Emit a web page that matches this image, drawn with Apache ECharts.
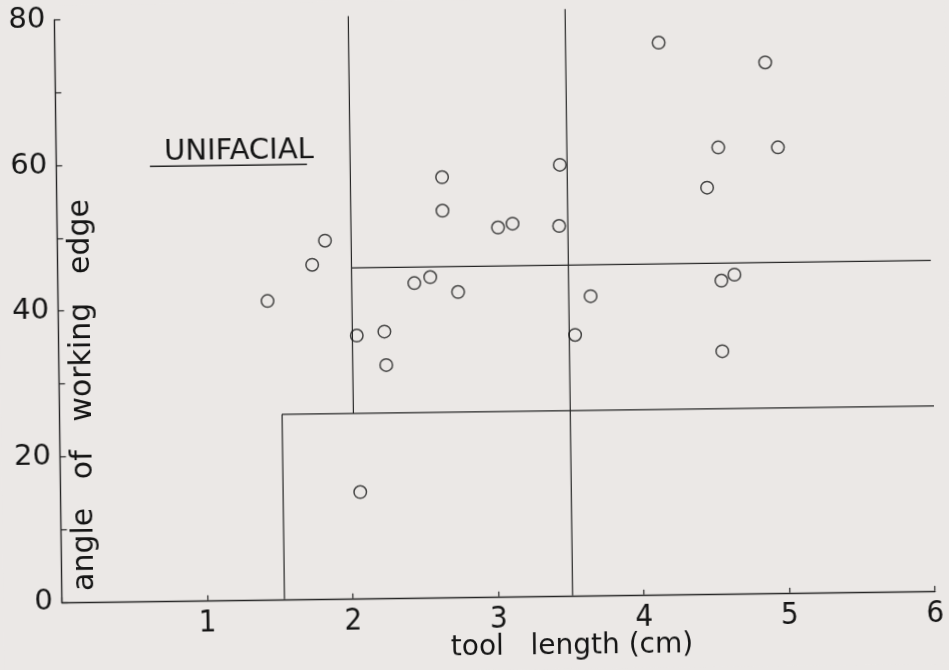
<!DOCTYPE html>
<html>
<head>
<meta charset="utf-8">
<script src="https://cdn.jsdelivr.net/npm/echarts@6/dist/echarts.min.js"></script>
<style>
  html, body { margin: 0; padding: 0; background: #ebe8e6; overflow: hidden; }
  /* the printed figure sits slightly tilted on the page */
  #chart { width: 949px; height: 670px; transform: rotate(-0.74deg); transform-origin: 50% 50%; }
</style>
</head>
<body>
<div id="chart"></div>
<script>
// tool length (cm) and angle of working edge (degrees) for each unifacial tool
const toolLength = [1.44, 1.75, 1.84, 2.05, 2.24, 2.25, 2.06, 2.45, 2.56, 2.75, 2.65, 2.65, 3.03,
                    3.13, 3.46, 3.45, 3.55, 3.66, 4.15, 4.88, 4.55, 4.96, 4.47, 4.56, 4.65, 4.56];
const edgeAngle  = [41.0, 45.9, 49.2, 36.1, 36.6, 32.0, 14.6, 43.2, 44.0, 41.9, 57.7, 53.1, 50.7,
                    51.2, 59.2, 50.8, 35.8, 41.1, 75.8, 72.9, 61.3, 61.2, 55.8, 43.0, 43.8, 33.3];

// class boundaries drawn across the field
const boundaryShortUpper = [[2.02, 25.4], [2.02, 80.0]];
const boundaryAngleUpper = [[2.02, 45.4], [6.0, 45.4]];
const boundaryLongTools  = [[3.51, 0], [3.51, 80.6]];
const boundaryLowAngle   = [[1.53, 0], [1.53, 25.4], [6.04, 25.4]];

// heading of the panel and the rule under it
const panelTitle = 'UNIFACIAL';
const panelTitleAt = [1.257, 61.6];
const panelRule = [[0.644, 59.7], [1.723, 59.7]];

// axis ticks and titles
const xTicks = [1, 2, 3, 4, 5, 6];
const yTicks = [0, 20, 40, 60, 80];
const xTitle = 'tool   length (cm)';
const yTitle = 'angle   of   working   edge';

const ink = '#151515';
const inkLine = '#262626';
const chart = echarts.init(document.getElementById('chart'), null, { renderer: 'canvas' });

const rulePoints = pts => pts.map(p => ({ value: p }));
const boundary = pts => ({
  type: 'line',
  data: pts,
  symbol: 'none',
  clip: false,
  silent: true,
  animation: false,
  lineStyle: { color: inkLine, width: 1.2 },
  z: 2
});

chart.setOption({
  backgroundColor: '#ebe8e6',
  animation: false,
  grid: { left: 58.4, right: 17.3, top: 13.6, bottom: 73.2, containLabel: false },
  xAxis: {
    type: 'value', min: 0, max: 6, interval: 1,
    axisLine: { show: true, lineStyle: { color: inkLine, width: 1.4 } },
    axisTick: { show: true, inside: true, length: 5, lineStyle: { color: inkLine, width: 1.2 } },
    splitLine: { show: false },
    axisLabel: {
      margin: 8,
      color: ink,
      fontSize: 31,
      fontFamily: "'Liberation Sans Narrow', 'DejaVu Sans Condensed', 'DejaVu Sans'",
      formatter: v => (xTicks.indexOf(v) >= 0 ? String(v) : '')
    }
  },
  yAxis: {
    type: 'value', min: 0, max: 80, interval: 10,
    axisLine: { show: true, lineStyle: { color: inkLine, width: 1.4 } },
    axisTick: { show: true, inside: true, length: 6, lineStyle: { color: inkLine, width: 1.2 } },
    splitLine: { show: false },
    axisLabel: {
      margin: 9,
      color: ink,
      fontSize: 29,
      fontFamily: "'DejaVu Sans'",
      formatter: v => (yTicks.indexOf(v) >= 0 ? String(v) : '')
    }
  },
  graphic: [
    {
      type: 'text', x: 568, y: 648,
      style: {
        text: xTitle, fill: ink, font: "28px 'DejaVu Sans'",
        textAlign: 'center', textVerticalAlign: 'middle'
      }
    },
    {
      type: 'text', x: 82, y: 390, rotation: Math.PI / 2,
      style: {
        text: yTitle, fill: ink, font: "30px 'DejaVu Sans'",
        textAlign: 'center', textVerticalAlign: 'middle'
      }
    }
  ],
  series: [
    boundary(boundaryShortUpper),
    boundary(boundaryAngleUpper),
    boundary(boundaryLongTools),
    boundary(boundaryLowAngle),
    {
      type: 'line',
      data: rulePoints(panelRule),
      symbol: 'none',
      clip: false,
      silent: true,
      lineStyle: { color: inkLine, width: 1.3 },
      markPoint: {
        symbol: 'circle',
        symbolSize: 0,
        silent: true,
        data: [{ coord: panelTitleAt, value: panelTitle }],
        label: {
          show: true, position: 'inside', formatter: panelTitle,
          color: ink, fontSize: 29, fontFamily: "'DejaVu Sans'"
        }
      }
    },
    {
      type: 'scatter',
      data: toolLength.map((x, i) => [x, edgeAngle[i]]),
      symbol: 'circle',
      symbolSize: 12.5,
      itemStyle: { color: 'rgba(0,0,0,0)', borderColor: '#1c1c1c', borderWidth: 1.5 },
      z: 5
    }
  ]
});
</script>
</body>
</html>
